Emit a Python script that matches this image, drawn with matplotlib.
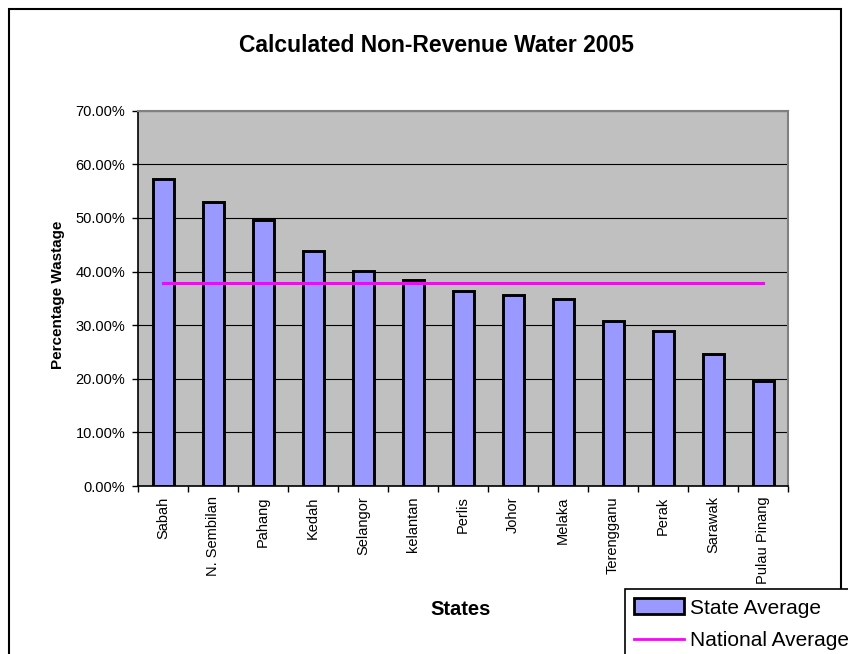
import numpy as np
import matplotlib
matplotlib.use("Agg")
import matplotlib.pyplot as plt
from matplotlib import ticker
from matplotlib.patches import Rectangle, Patch
from matplotlib.lines import Line2D

plt.rcParams['font.family'] = ['Liberation Sans', 'DejaVu Sans']

# data
states = ["Sabah", "N. Sembilan", "Pahang", "Kedah", "Selangor", "kelantan",
          "Perlis", "Johor", "Melaka", "Terengganu", "Perak", "Sarawak",
          "Pulau Pinang"]
state_avg = [57.2, 53.0, 49.7, 43.9, 40.1, 38.5, 36.4, 35.6, 34.8, 30.8,
             28.9, 24.7, 19.6]
national_avg = 37.9
y_ticks = [0, 10, 20, 30, 40, 50, 60, 70]

W, H = 848, 654
fig = plt.figure(figsize=(W / 100, H / 100), dpi=100)
fig.patch.set_facecolor("white")

# plot area
ax = fig.add_axes([138 / W, 1 - 486 / H, 650 / W, 375.3 / H])
ax.set_facecolor("#C0C0C0")

x = np.arange(len(states))
ax.bar(x, state_avg, width=0.42, color="#9999FF", edgecolor="black",
       linewidth=2.1, zorder=3)
ax.plot(x, [national_avg] * len(x), color="#FF00FF", linewidth=2.2, zorder=4)

ax.set_xlim(-0.5, len(states) - 0.5)
ax.set_ylim(0, 70)
ax.set_yticks(y_ticks)
ax.yaxis.set_major_formatter(ticker.FuncFormatter(lambda v, p: f"{v:.2f}%"))
ax.grid(axis="y", color="black", linewidth=0.8, zorder=1)
ax.set_axisbelow(True)

# ticks between categories, labels in the middle
ax.set_xticks(np.arange(len(states) + 1) - 0.5)
ax.set_xticklabels([])
ax.set_xticks(x, minor=True)
ax.set_xticklabels(states, minor=True, rotation=90, fontsize=10.5)
ax.tick_params(axis="x", which="minor", length=0, pad=7.5)
ax.tick_params(axis="x", which="major", length=4, width=1, direction="out")
ax.tick_params(axis="y", length=4, width=1, direction="out", labelsize=10.5,
               pad=5)

for s in ["top", "right"]:
    ax.spines[s].set_color("#808080")
    ax.spines[s].set_linewidth(1.5)
for s in ["left", "bottom"]:
    ax.spines[s].set_color("black")
    ax.spines[s].set_linewidth(1.2)

# titles
fig.text(436 / W, 1 - 52 / H, "Calculated Non-Revenue Water 2005",
         ha="center", va="baseline", fontsize=16.5, fontweight="bold")
fig.text(58 / W, 1 - 295 / H, "Percentage Wastage", rotation=90,
         ha="center", va="center", fontsize=11, fontweight="bold")
fig.text(461 / W, 1 - 615 / H, "States", ha="center", va="baseline",
         fontsize=14.5, fontweight="bold")

# chart frame (cut off at bottom)
fig.add_artist(Rectangle((9 / W, -0.1), 832 / W, 1.1 - 9 / H,
                         transform=fig.transFigure, fill=False,
                         edgecolor="black", linewidth=1.5))

handles = [Patch(facecolor="#9999FF", edgecolor="black", linewidth=2),
           Line2D([0], [0], color="#FF00FF", linewidth=2)]
leg = fig.legend(handles, ["State Average", "National Average"],
                 loc="upper left", bbox_to_anchor=(625 / W, 1 - 589 / H),
                 bbox_transform=fig.transFigure, fontsize=15,
                 frameon=True, fancybox=False, edgecolor="black",
                 framealpha=1, borderpad=0.45, handlelength=2.4,
                 handleheight=0.8, handletextpad=0.25, labelspacing=0.65,
                 borderaxespad=0)
leg.get_frame().set_linewidth(1.2)

fig.savefig("out.png", dpi=100)
